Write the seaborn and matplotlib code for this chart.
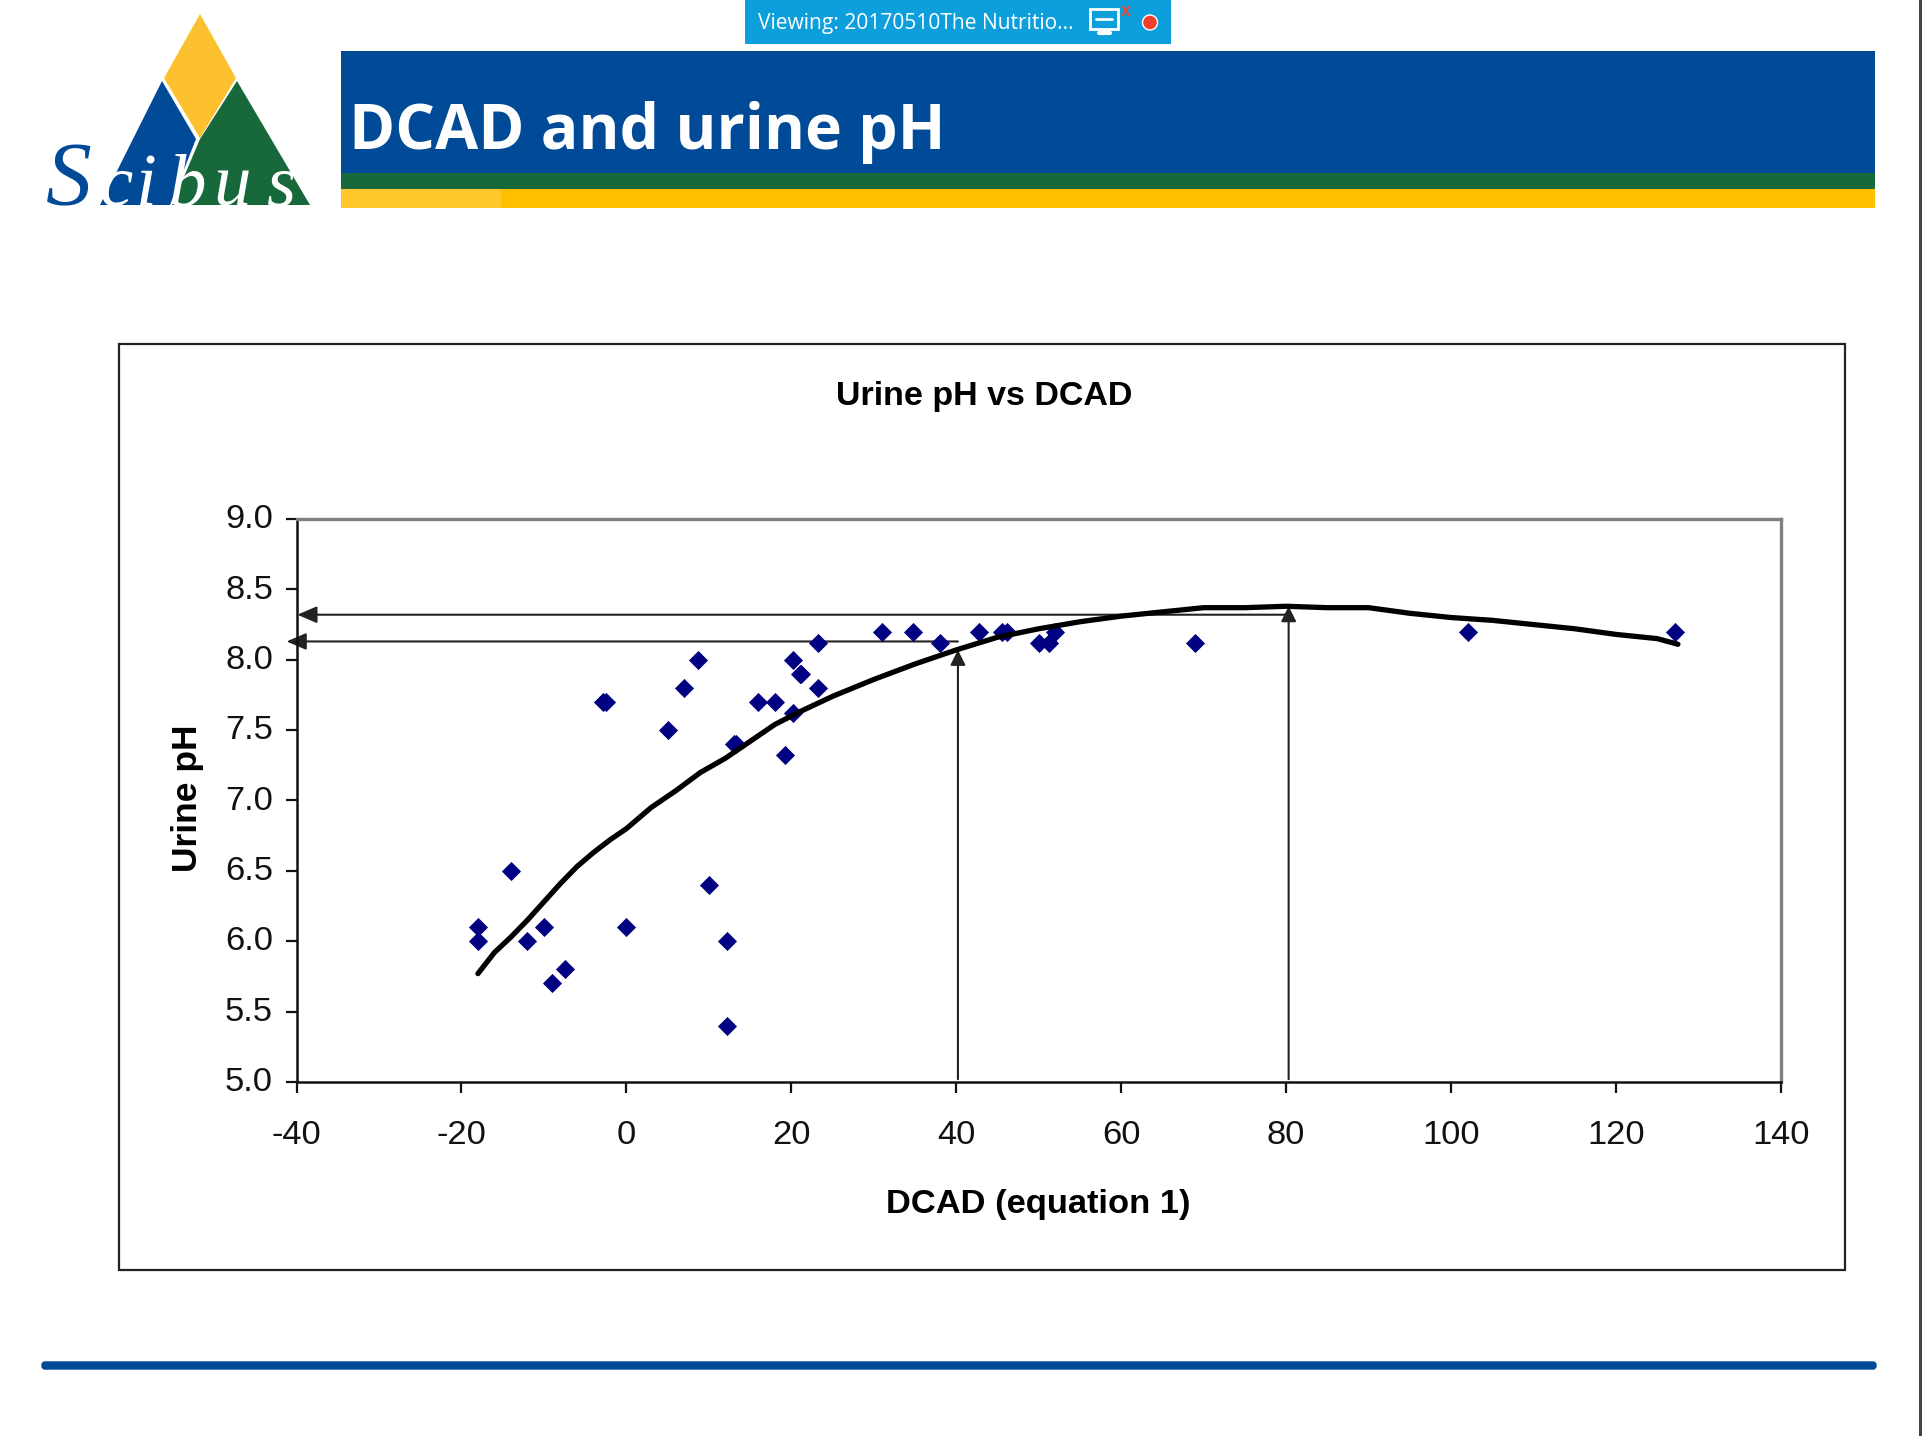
import seaborn as sns
import matplotlib
matplotlib.use("Agg")
import matplotlib.pyplot as plt
from matplotlib.patches import Polygon, Rectangle, Circle, FancyBboxPatch
from matplotlib.transforms import ScaledTranslation
import pandas as pd

# scatter data
dcad = [-18, -18, -14, -12, -10, -9, -7.5, -2.8, -2.5, 0, 5, 7, 8.7, 10, 12.2, 12.2, 13, 13.3, 16, 18,
        19.2, 20.2, 20.2, 21, 21.2, 23.2, 23.2, 31, 34.8, 38, 42.8, 45.6, 46.2, 50, 51.3, 52, 69, 102, 127.2]
urine_ph = [6.1, 6.0, 6.5, 6.0, 6.1, 5.7, 5.8, 7.7, 7.7, 6.1, 7.5, 7.8, 8.0, 6.4, 6.0, 5.4, 7.4, 7.4, 7.7, 7.7,
            7.32, 8.0, 7.62, 7.9, 7.9, 8.12, 7.8, 8.2, 8.2, 8.12, 8.2, 8.2, 8.2, 8.12, 8.12, 8.2, 8.12, 8.2, 8.2]

# trend line
curve_x = [-18, -16, -14, -12, -10, -8, -6, -4, -2, 0, 3, 6, 9, 12, 15, 18, 21, 25, 30, 35, 40,
           45, 50, 55, 60, 65, 70, 75, 80, 85, 90, 95, 100, 105, 110, 115, 120, 125, 127.5]
curve_y = [5.77, 5.92, 6.03, 6.15, 6.28, 6.41, 6.53, 6.63, 6.72, 6.8, 6.95, 7.07, 7.2, 7.3, 7.42,
           7.54, 7.63, 7.74, 7.86, 7.97, 8.07, 8.16, 8.22, 8.27, 8.31, 8.34, 8.37, 8.37, 8.38,
           8.37, 8.37, 8.33, 8.30, 8.28, 8.25, 8.22, 8.18, 8.15, 8.11]

x_ticks = [-40, -20, 0, 20, 40, 60, 80, 100, 120, 140]
y_ticks = [5.0, 5.5, 6.0, 6.5, 7.0, 7.5, 8.0, 8.5, 9.0]

# the two read-offs drawn on the chart: (dcad, ph on curve, ph of the arrow)
read_low = (40.2, 8.07, 8.13)
read_high = (80.3, 8.38, 8.32)

W, H = 1922, 1436
BLUE = "#004A98"
GREEN = "#17683A"
YELLOW = "#FFC000"

sns.set_theme(style="white")
plt.rcParams["font.family"] = ["Liberation Sans", "DejaVu Sans"]
plt.rcParams["axes.unicode_minus"] = False

fig = plt.figure(figsize=(W / 100, H / 100), dpi=100, facecolor="white")

# slide background in pixel coordinates
bg = fig.add_axes([0, 0, 1, 1], zorder=0)
bg.set_xlim(0, W)
bg.set_ylim(H, 0)
bg.axis("off")

# header band
bg.add_patch(Rectangle((341, 51), 1534, 122, color=BLUE, lw=0))
bg.add_patch(Rectangle((341, 173), 1534, 16, color=GREEN, lw=0))
bg.add_patch(Rectangle((341, 189), 1534, 19, color=YELLOW, lw=0))
bg.add_patch(Rectangle((341, 189), 160, 19, color="#FFC72C", lw=0))
bg.text(349, 133, "DCAD and urine pH", color="white", fontsize=45, fontweight="bold",
        family="Open Sans", va="center", ha="left")

# logo
bg.add_patch(Polygon([(200, 14), (236, 78), (200, 138), (164, 78)], color="#FDC02F", lw=0))
bg.add_patch(Polygon([(162, 81), (196, 139), (170, 205), (100, 205)], color=BLUE, lw=0))
bg.add_patch(Polygon([(237, 81), (310, 205), (172, 205), (200, 139)], color=GREEN, lw=0))
logo_font = dict(family="Liberation Serif", style="italic", va="baseline", ha="left")
bg.text(46, 205, "S", color=BLUE, fontsize=66, **logo_font)
for lx, letter in zip([100, 136, 168, 213, 266], "cibus"):
    bg.text(lx, 205, letter, color="white", fontsize=54, **logo_font)

# viewing bar on top
bg.add_patch(Rectangle((745, 0), 426, 44, color="#0D9FDB", lw=0))
bg.text(758, 23, "Viewing: 20170510The Nutritio...", color="white", fontsize=15.1,
        family="Open Sans", va="center", ha="left")
bg.add_patch(Rectangle((1090, 9), 28, 20, fill=False, ec="white", lw=2))
bg.plot([1096, 1112], [19, 19], color="white", lw=2)
bg.plot([1099, 1110], [33, 33], color="white", lw=3)
bg.text(1126, 11, "x", color="#E8483A", fontsize=13, fontweight="bold", ha="center", va="center")
bg.add_patch(Circle((1150, 22.5), 7.5, fc="#F0402B", ec="white", lw=1))

# right edge, chart frame, bottom rule
bg.add_patch(Rectangle((1919, 0), 3, H, color="#444444", lw=0))
bg.add_patch(Rectangle((118.5, 344), 1726, 926, fc="white", ec="#222222", lw=1.6))
bg.add_patch(FancyBboxPatch((42, 1362), 1834, 7, boxstyle="round,pad=0,rounding_size=3",
                            fc=BLUE, ec=BLUE, lw=1))

# chart text
bg.text(984, 396, "Urine pH vs DCAD", fontsize=24.5, fontweight="bold", color="black", ha="center", va="center")
bg.text(1038, 1204, "DCAD (equation 1)", fontsize=24.8, fontweight="bold", color="black", ha="center", va="center")
bg.text(187, 798, "Urine pH", fontsize=25.5, fontweight="bold", color="black", rotation=90,
        ha="center", va="center")

# chart itself
left, right, top, bottom = 296.5, 1781, 519, 1082
ax = fig.add_axes([left / W, 1 - bottom / H, (right - left) / W, (bottom - top) / H], zorder=1)
ax.patch.set_alpha(0)

scatter_df = pd.DataFrame({"dcad": dcad, "urine_ph": urine_ph})
curve_df = pd.DataFrame({"dcad": curve_x, "urine_ph": curve_y})
sns.scatterplot(data=scatter_df, x="dcad", y="urine_ph", marker="D", s=95, color="#000080",
                edgecolor="#000080", linewidth=0, ax=ax, zorder=3)
sns.lineplot(data=curve_df, x="dcad", y="urine_ph", color="black", linewidth=3.8, ax=ax,
             errorbar=None, zorder=4)

ax.set_xlim(-40, 140)
ax.set_ylim(5, 9)
ax.set_xticks(x_ticks)
ax.set_yticks(y_ticks)
ax.set_yticklabels(["%.1f" % v for v in y_ticks])
ax.set_xlabel("")
ax.set_ylabel("")
ax.tick_params(axis="both", direction="out", length=8, width=1.6, color="#111111", labelsize=24.8,
               labelcolor="#111111", bottom=True, left=True)
ax.tick_params(axis="x", pad=19.5)
ax.tick_params(axis="y", pad=9)

# y labels sit a touch higher than their ticks
for lab in ax.get_yticklabels():
    lab.set_transform(lab.get_transform() + ScaledTranslation(0, 2 / 72, fig.dpi_scale_trans))

for side in ["left", "bottom"]:
    ax.spines[side].set_color("#111111")
    ax.spines[side].set_linewidth(1.8)
for side in ["top", "right"]:
    ax.spines[side].set_color("#808080")
    ax.spines[side].set_linewidth(2.4)

# read-off arrows: small heads up to the curve, bigger ones across to the y axis
up_arrow = dict(arrowstyle="-|>,head_length=0.7,head_width=0.35", color="#222222", lw=1.5,
                shrinkA=0, shrinkB=0, mutation_scale=13)
left_arrow = dict(arrowstyle="-|>,head_length=0.7,head_width=0.3", color="#222222", lw=1.5,
                  shrinkA=0, shrinkB=0, mutation_scale=17)
for (rx, ry, rh), tip in zip([read_low, read_high], [-41.2, -39.9]):
    ax.annotate("", xy=(rx, ry), xytext=(rx, 5.02), arrowprops=up_arrow, zorder=2,
                annotation_clip=False)
    ax.annotate("", xy=(tip, rh), xytext=(rx, rh), arrowprops=left_arrow, zorder=2,
                annotation_clip=False)

fig.savefig("out.png", dpi=100)
